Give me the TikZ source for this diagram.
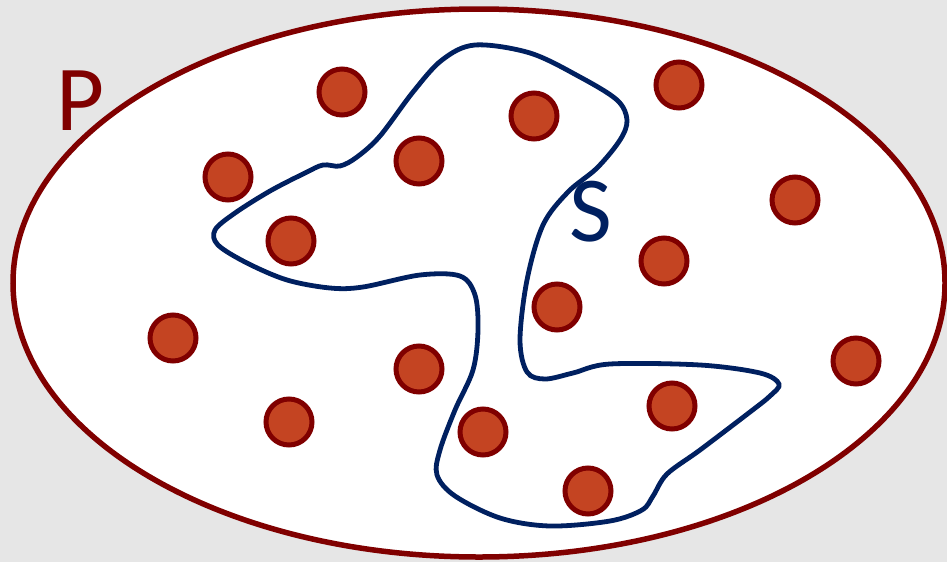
\documentclass[tikz,border=0pt]{standalone}
\usepackage{fontspec}
\setmainfont{Carlito}
\definecolor{bgray}{HTML}{E6E6E6}
\definecolor{darkred}{HTML}{800000}
\definecolor{dotfill}{HTML}{C44422}
\definecolor{navy}{HTML}{002060}
\tikzset{
  elem/.style={circle, draw=darkred, fill=dotfill, line width=5pt, minimum size=46pt, inner sep=0pt},
  setlabel/.style={inner sep=0pt, anchor=base, font=\fontsize{93}{93}\selectfont},
}
\begin{document}
\begin{tikzpicture}[x=1pt,y=-1pt]
\useasboundingbox (0,0) rectangle (947,562);
\fill[bgray] (0,0) rectangle (947,562);
\draw[darkred, line width=5.5pt, fill=white] (479,283) ellipse [x radius=466, y radius=274];
\node[setlabel, text=darkred] (P) at (81,130) {P};
\draw[navy, line width=4.8pt] plot[smooth cycle, tension=0.55] coordinates {
 (475,45) (530,53) (580,77) (617,100) (627,120) (620,140) (597,168) (568,192)
 (543,225) (527,280) (520,340) (527,372) (545,379) (573,373) (610,364) (700,365)
 (760,373) (779,384) (770,396) (750,412) (700,450) (667,474) (653,496) (642,510)
 (610,521) (550,526) (500,518) (455,496) (437,475) (440,450) (455,410) (473,370)
 (478,330) (475,295) (460,276) (420,275) (363,287) (330,288) (287,280) (247,263)
 (218,245) (215,230) (235,213) (270,191) (305,173) (323,165) (340,166) (357,157)
 (380,136) (413,92) (442,60)
};
\node[setlabel, text=navy] (S) at (591,241) {S};
\node[elem] (d1) at (342,92) {};
\node[elem] (d2) at (228,177) {};
\node[elem] (d3) at (419,161) {};
\node[elem] (d4) at (534,116) {};
\node[elem] (d5) at (679,85) {};
\node[elem] (d6) at (795,200) {};
\node[elem] (d7) at (291,241) {};
\node[elem] (d8) at (664,261) {};
\node[elem] (d9) at (557,307) {};
\node[elem] (d10) at (173,338) {};
\node[elem] (d11) at (419,369) {};
\node[elem] (d12) at (856,361) {};
\node[elem] (d13) at (289,422) {};
\node[elem] (d14) at (483,432) {};
\node[elem] (d15) at (672,406) {};
\node[elem] (d16) at (588,491) {};
\end{tikzpicture}
\end{document}
